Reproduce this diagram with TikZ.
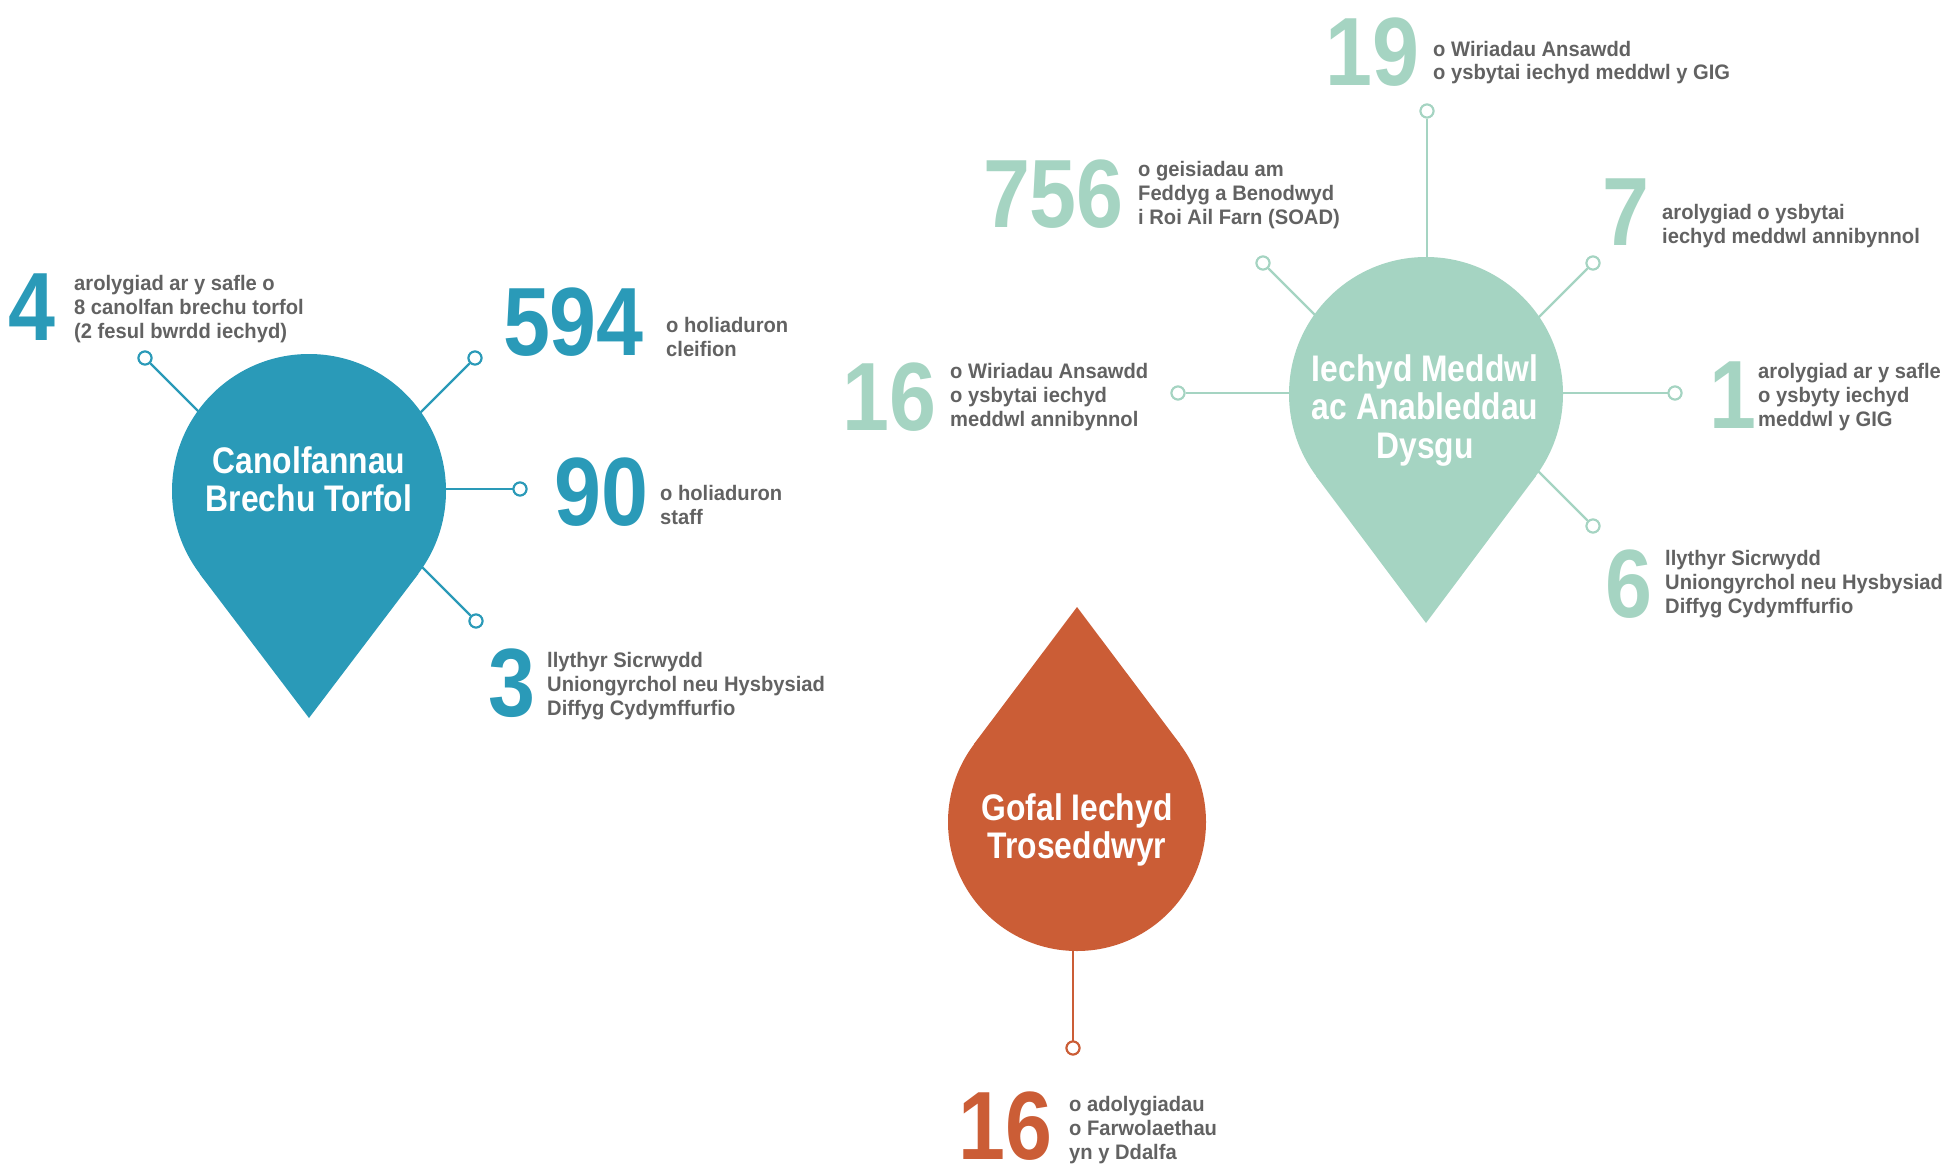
\documentclass[tikz,border=0pt]{standalone}
\usepackage{fontspec}
\usetikzlibrary{calc}
\setmainfont{Liberation Sans}
\newfontfamily\labfont{Liberation Sans}[FakeStretch=0.96]
\newfontfamily\numfont{Liberation Sans}[FakeStretch=0.87]
\newfontfamily\pinfont{Liberation Sans}[FakeStretch=0.86]
\definecolor{cblue}{HTML}{2A9AB8}
\definecolor{cgreen}{HTML}{A5D4C2}
\definecolor{corange}{HTML}{CB5D36}
\definecolor{cgray}{HTML}{626262}
\newcommand\tlines[1]{\begin{tabular}[t]{@{}l@{}}#1\end{tabular}}
\newcommand\tclines[1]{\begin{tabular}[t]{@{}c@{}}#1\end{tabular}}
\tikzset{
  lab/.style={anchor=base west, inner sep=0pt, text=cgray,
    font=\labfont\bfseries\fontsize{21}{24}\selectfont},
  num/.style={anchor=base east, inner sep=0pt,
    font=\numfont\bfseries\fontsize{97}{97}\selectfont},
  pintext/.style={anchor=base, inner sep=0pt, text=white,
    font=\pinfont\bfseries\fontsize{37}{38.5}\selectfont},
  pinhead/.style={circle, inner sep=0pt, minimum size=274pt},
  dot/.style={circle, draw, fill=white, line width=2pt, inner sep=0pt, minimum size=13pt},
  conn/.style={line width=2.2pt}
}
\begin{document}
\begin{tikzpicture}[x=1pt,y=-1pt]
\useasboundingbox (0,0) rectangle (1952,1167);

% ---------------- Blue: Canolfannau Brechu Torfol ----------------
\coordinate (bC) at (309,491);
\coordinate (bTip) at (309,718);
\node[dot, draw=cblue] (bd1) at (145,358) {};
\node[dot, draw=cblue] (bd2) at (475,358) {};
\node[dot, draw=cblue] (bd3) at (520,489) {};
\node[dot, draw=cblue] (bd4) at (476,621) {};
\coordinate (ba1) at (225,438);
\coordinate (ba2) at (395,438);
\coordinate (ba3) at (400,489);
\coordinate (ba4) at (396,541);
\foreach \i in {1,...,4} \draw[conn, cblue] (bd\i) -- (ba\i);
\node[pinhead, fill=cblue] (bp) at (bC) {};
\fill[cblue] (bTip) -- (tangent cs:node=bp,point={(bTip)},solution=1)
  -- (tangent cs:node=bp,point={(bTip)},solution=2) -- cycle;
\node[pintext] (bpt) at (309,473) {\tclines{Canolfannau\\Brechu Torfol}};
\foreach \i in {1,...,4} \node[dot, draw=cblue] at (bd\i) {};

\node[num, text=cblue] (bn1) at (56,340) {4};
\node[lab] (bl1) at (74,290) {\tlines{arolygiad ar y safle o\\8 canolfan brechu torfol\\(2 fesul bwrdd iechyd)}};
\node[num, text=cblue] (bn2) at (644,355) {594};
\node[lab] (bl2) at (666,332) {\tlines{o holiaduron\\cleifion}};
\node[num, text=cblue] (bn3) at (649,525) {90};
\node[lab] (bl3) at (660,500) {\tlines{o holiaduron\\staff}};
\node[num, text=cblue] (bn4) at (536,716) {3};
\node[lab] (bl4) at (547,667) {\tlines{llythyr Sicrwydd\\Uniongyrchol neu Hysbysiad\\Diffyg Cydymffurfio}};

% ---------------- Green: Iechyd Meddwl ac Anableddau Dysgu ----------------
\coordinate (gC) at (1426,394);
\coordinate (gTip) at (1426,623);
\node[dot, draw=cgreen] (gd1) at (1427,111) {};
\node[dot, draw=cgreen] (gd2) at (1263,263) {};
\node[dot, draw=cgreen] (gd3) at (1593,263) {};
\node[dot, draw=cgreen] (gd4) at (1178,393) {};
\node[dot, draw=cgreen] (gd5) at (1675,393) {};
\node[dot, draw=cgreen] (gd6) at (1593,526) {};
\coordinate (ga1) at (1427,300);
\coordinate (ga2) at (1343,343);
\coordinate (ga3) at (1513,343);
\coordinate (ga4) at (1330,393);
\coordinate (ga5) at (1520,393);
\coordinate (ga6) at (1513,446);
\foreach \i in {1,...,6} \draw[conn, cgreen] (gd\i) -- (ga\i);
\node[pinhead, fill=cgreen] (gp) at (gC) {};
\fill[cgreen] (gTip) -- (tangent cs:node=gp,point={(gTip)},solution=1)
  -- (tangent cs:node=gp,point={(gTip)},solution=2) -- cycle;
\node[pintext] (gpt) at (1425,381) {\tclines{Iechyd Meddwl\\ac Anableddau\\Dysgu}};
\foreach \i in {1,...,6} \node[dot, draw=cgreen] at (gd\i) {};

\node[num, text=cgreen] (gn1) at (1420,85) {19};
\node[lab] (gl1) at (1433,56) {\tlines{o Wiriadau Ansawdd\\o ysbytai iechyd meddwl y GIG}};
\node[num, text=cgreen] (gn2) at (1124,227) {756};
\node[lab] (gl2) at (1138,176) {\tlines{o geisiadau am\\Feddyg a Benodwyd\\i Roi Ail Farn (SOAD)}};
\node[num, text=cgreen] (gn3) at (1650,245) {7};
\node[lab] (gl3) at (1662,219) {\tlines{arolygiad o ysbytai\\iechyd meddwl annibynnol}};
\node[num, text=cgreen] (gn4) at (937,430) {16};
\node[lab] (gl4) at (950,378) {\tlines{o Wiriadau Ansawdd\\o ysbytai iechyd\\meddwl annibynnol}};
\node[num, text=cgreen] (gn5) at (1757,428) {1};
\node[lab] (gl5) at (1758,378) {\tlines{arolygiad ar y safle\\o ysbyty iechyd\\meddwl y GIG}};
\node[num, text=cgreen] (gn6) at (1653,617) {6};
\node[lab] (gl6) at (1665,565) {\tlines{llythyr Sicrwydd\\Uniongyrchol neu Hysbysiad\\Diffyg Cydymffurfio}};

% ---------------- Orange: Gofal Iechyd Troseddwyr ----------------
\coordinate (oC) at (1077,822);
\coordinate (oTip) at (1077,607);
\node[dot, draw=corange] (od1) at (1073,1048) {};
\coordinate (oa1) at (1073,900);
\draw[conn, corange] (od1) -- (oa1);
\node[circle, inner sep=0pt, minimum size=258pt, fill=corange] (op) at (oC) {};
\fill[corange] (oTip) -- (tangent cs:node=op,point={(oTip)},solution=1)
  -- (tangent cs:node=op,point={(oTip)},solution=2) -- cycle;
\node[pintext] (opt) at (1077,820) {\tclines{Gofal Iechyd\\Troseddwyr}};
\node[dot, draw=corange] at (od1) {};

\node[num, text=corange] (on1) at (1053,1159) {16};
\node[lab] (ol1) at (1069,1111) {\tlines{o adolygiadau\\o Farwolaethau\\yn y Ddalfa}};
\end{tikzpicture}
\end{document}
